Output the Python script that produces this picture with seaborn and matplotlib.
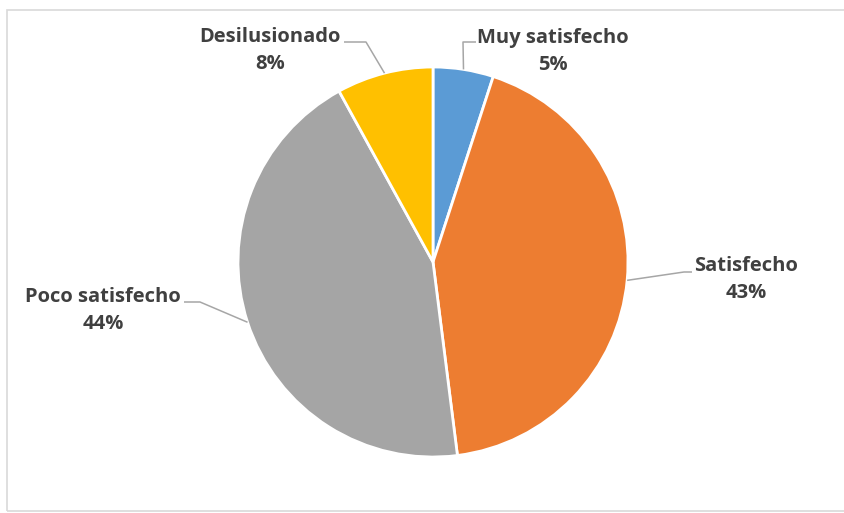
import numpy as np
import matplotlib
matplotlib.use("Agg")
import matplotlib.pyplot as plt
from matplotlib.patches import Rectangle
import seaborn as sns

# Survey satisfaction shares (%)
categories = ["Muy satisfecho", "Satisfecho", "Poco satisfecho", "Desilusionado"]
values = [5, 43, 44, 8]
colors = ["#5B9BD5", "#ED7D31", "#A5A5A5", "#FFC000"]

sns.set_theme(style="white")
plt.rcParams["font.family"] = ["Open Sans", "DejaVu Sans"]

W, H = 844, 513
fig = plt.figure(figsize=(W / 100, H / 100), dpi=100)
ax = fig.add_axes([0, 0, 1, 1])

# light frame around the chart area
fig.patches.append(Rectangle((7 / W, 2 / H), 1.0, 501 / H, transform=fig.transFigure,
                             fill=False, edgecolor="#D9D9D9", linewidth=1.2))

cx, cy, r = 433, H - 262, 195
ax.pie(values, colors=colors, startangle=90, counterclock=False,
       center=(cx, cy), radius=r, frame=True,
       wedgeprops=dict(edgecolor="white", linewidth=2))
ax.set_xlim(0, W)
ax.set_ylim(0, H)
ax.set_aspect("equal")
ax.axis("off")

# text centre x, first-line baseline y, leader elbow (x, y), leader end x
label_pos = {
    "Muy satisfecho": (553, 43, (463, 42), 476),
    "Satisfecho": (746, 271, (684, 272), 692),
    "Poco satisfecho": (103, 302, (200, 302), 184),
    "Desilusionado": (270, 42, (366, 42), 344),
}

font = dict(fontsize=14.5, fontweight="bold", color="#404040")

total = sum(values)
cum = 0
for cat, val in zip(categories, values):
    mid = 90 - (cum + val / 2) / total * 360
    cum += val
    ang = np.deg2rad(mid)
    ex, ey = cx + r * np.cos(ang), cy + r * np.sin(ang)
    tx, ty, (bx, by), end_x = label_pos[cat]
    ax.plot([ex, bx, end_x], [ey, H - by, H - by], color="#A6A6A6", lw=1.1,
            solid_capstyle="butt")
    ax.text(tx, H - ty, cat, ha="center", va="baseline", **font)
    ax.text(tx, H - ty - 27, f"{val}%", ha="center", va="baseline", **font)

fig.savefig("out.png", dpi=100, facecolor="white")
